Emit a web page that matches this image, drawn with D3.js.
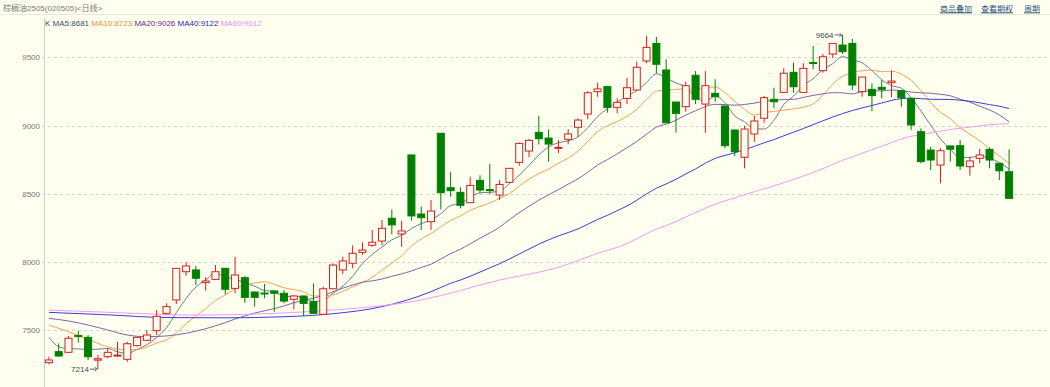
<!DOCTYPE html>
<html>
<head>
<meta charset="utf-8">
<script src="https://cdn.jsdelivr.net/npm/d3@7"></script>
<style>
  body { margin: 0; background: #fffff0; }
  .chart svg { display: block; }
</style>
</head>
<body>
<div class="chart"></div>
<script>
var svgWidth = 1050;
var svgHeight = 387;

// daily candles, oldest first
var opens = [7261,7342,7337,7460,7447,7280,7305,7310,7286,7386,
  7425,7496,7623,7721,7928,7941,7848,7872,7953,7806,
  7884,7779,7772,7787,7770,7726,7750,7708,7616,7803,
  7941,7990,8070,8122,8153,8320,8205,8784,8351,8295,
  8943,8544,8510,8434,8598,8530,8490,8583,8730,8813,
  8950,8908,8835,8899,8987,9084,9248,9285,9133,9199,
  9260,9473,9602,9407,9172,9138,9368,9157,9236,9143,
  8967,8767,8938,9053,9192,9243,9390,9243,9462,9402,
  9524,9590,9602,9248,9265,9280,9314,9255,9199,8955,
  8820,8710,8850,8852,8698,8759,8825,8723,8661];
var highs = [7305,7403,7457,7493,7464,7317,7367,7415,7415,7450,
  7500,7647,7696,7955,7997,7970,7887,7977,7955,8038,
  7897,7782,7838,7790,7794,7755,7752,7843,7818,7990,
  8038,8122,8144,8234,8307,8385,8302,8786,8405,8454,
  8945,8661,8547,8625,8635,8718,8600,8688,8877,8901,
  9072,8972,8894,8974,9053,9253,9314,9287,9199,9350,
  9468,9655,9650,9485,9175,9321,9399,9399,9339,9145,
  8970,8998,9070,9216,9277,9419,9460,9456,9583,9524,
  9602,9664,9634,9355,9309,9333,9402,9258,9200,8979,
  8845,8833,8852,8894,8771,8828,8840,8725,8825];
var lows = [7249,7308,7335,7408,7281,7214,7293,7305,7268,7380,
  7420,7464,7615,7691,7897,7831,7789,7868,7762,7770,
  7701,7672,7733,7635,7696,7652,7603,7620,7614,7800,
  7911,7953,8051,8111,8124,8202,8111,8302,8234,8234,
  8385,8478,8393,8432,8507,8495,8454,8580,8705,8767,
  8862,8735,8797,8862,8918,9045,9211,9094,9089,9157,
  9258,9456,9383,9018,8947,9101,9157,8947,9174,8833,
  8776,8686,8881,9020,9126,9240,9241,9240,9412,9387,
  9493,9524,9260,9211,9106,9199,9207,9138,8967,8723,
  8674,8576,8735,8674,8632,8723,8686,8600,8466];
var closes = [7281,7310,7440,7455,7305,7290,7337,7317,7400,7447,
  7464,7601,7672,7953,7970,7880,7860,7928,7799,7904,
  7740,7740,7768,7770,7713,7750,7696,7623,7803,7977,
  8007,8063,8087,8144,8246,8271,8227,8337,8324,8373,
  8507,8522,8415,8561,8527,8526,8568,8686,8869,8891,
  8903,8864,8840,8938,9040,9240,9268,9133,9170,9277,
  9427,9573,9449,9020,9089,9292,9192,9292,9211,8852,
  8808,8974,9033,9204,9174,9383,9284,9419,9458,9504,
  9602,9541,9297,9355,9219,9265,9326,9204,9004,8735,
  8747,8815,8826,8703,8740,8784,8747,8668,8466];

// moving averages before enough candles exist on screen: [index, value]
var ma5Lead = [[0,7447],[1,7378],[2,7364],[3,7362]];
var ma10Lead = [[0,7537],[2,7488],[4,7432],[6,7378],[8,7355]];
var ma20Lead = [[0,7586],[2,7567],[4,7537],[6,7501],[8,7464],[10,7452],[12,7457],[14,7477],[16,7510],[18,7555]];
var ma40Lead = [[0,7630],[6,7612],[12,7592],[18,7590],[24,7598],[29,7620],[34,7672]];
var ma60Lead = [[0,7647],[8,7625],[15,7610],[22,7620],[28,7642],[38,7721],[46,7867],[52,7960],[56,8063]];

var maNames = ["MA5", "MA10", "MA20", "MA40", "MA60"];
var maPeriods = [5, 10, 20, 40, 60];
var maLegend = [8681, 8723, 9026, 9122, 9012];
var maLeads = [ma5Lead, ma10Lead, ma20Lead, ma40Lead, ma60Lead];
var maLineColors = ["#66808e", "#f4a24e", "#8562a6", "#3c3cd8", "#f29af2"];
var maTextColors = ["#34506a", "#f09030", "#6a2a90", "#2626c4", "#f08cf0"];

var yTicks = [7500, 8000, 8500, 9000, 9500];
var title = "棕榈油2505(020505)<日线>";
var links = ["商品叠加", "查看期权", "周期"];

var upColor = "#d81e1e";
var downColor = "#008000";
var bgColor = "#fffff0";

var svg = d3.select(".chart")
  .append("svg")
  .attr("width", svgWidth)
  .attr("height", svgHeight)
  .style("font-family", "'Liberation Sans', Arial, 'Noto Sans CJK SC', sans-serif");

svg.append("rect")
  .attr("width", svgWidth)
  .attr("height", svgHeight)
  .attr("fill", bgColor);

var n = closes.length;
var xBand = d3.scaleBand()
  .domain(d3.range(n))
  .range([44, 1014]);
var xc = i => xBand(i) + xBand.bandwidth() / 2;

var yScale = d3.scaleLinear()
  .domain([7500, 9500])
  .range([330.1, 57.3]);

// header
svg.append("text")
  .attr("x", 3)
  .attr("y", 11)
  .attr("font-size", 8)
  .attr("fill", "#7a7a7a")
  .text(title);

svg.append("line")
  .attr("x1", 0).attr("x2", svgWidth)
  .attr("y1", 14.5).attr("y2", 14.5)
  .attr("stroke", "#ecead6");

var linkX = [940, 981, 1024];
links.forEach(function(t, k) {
  var tx = svg.append("text")
    .attr("x", linkX[k])
    .attr("y", 11.5)
    .attr("font-size", 8)
    .attr("fill", "#1f4f7f")
    .attr("text-decoration", "underline")
    .text(t);
});

// legend row
var legend = svg.append("text")
  .attr("x", 45)
  .attr("y", 26)
  .attr("font-size", 8);
legend.append("tspan").attr("fill", "#444").text("K ");
maNames.forEach(function(name, k) {
  legend.append("tspan")
    .attr("fill", maTextColors[k])
    .text(" " + name + ":" + maLegend[k]);
});

// y axis line, grid and labels
svg.append("line")
  .attr("x1", 44.5).attr("x2", 44.5)
  .attr("y1", 18).attr("y2", svgHeight)
  .attr("stroke", "#cfcfc4");

var grid = svg.append("g");
grid.selectAll("line")
  .data(yTicks)
  .enter()
  .append("line")
  .attr("x1", 42)
  .attr("x2", 1048)
  .attr("y1", d => Math.round(yScale(d)) + 0.5)
  .attr("y2", d => Math.round(yScale(d)) + 0.5)
  .attr("stroke", "#d4d4cc")
  .attr("stroke-dasharray", "3,3");

grid.selectAll("text")
  .data(yTicks)
  .enter()
  .append("text")
  .attr("x", 40)
  .attr("y", d => yScale(d) + 3)
  .attr("text-anchor", "end")
  .attr("font-size", 8)
  .attr("fill", "#777")
  .text(d => d);

// moving averages
function movingAverage(period, lead) {
  var pts = lead.map(d => [d[0], d[1]]);
  for (var i = period - 1; i < n; i++) {
    var s = 0;
    for (var j = i - period + 1; j <= i; j++) s += closes[j];
    pts.push([i, s / period]);
  }
  return pts;
}

var maLine = d3.line()
  .x(d => xc(d[0]))
  .y(d => yScale(d[1]))
  .curve(d3.curveMonotoneX);

var maGroup = svg.append("g");
maPeriods.forEach(function(p, k) {
  maGroup.append("path")
    .datum(movingAverage(p, maLeads[k]))
    .attr("fill", "none")
    .attr("stroke", maLineColors[k])
    .attr("stroke-width", 1)
    .attr("d", maLine);
});

// candles
var candles = d3.range(n).map(i => ({
  i: i, o: opens[i], h: highs[i], l: lows[i], c: closes[i]
}));

var candleGroup = svg.append("g");
var bodyW = 7;

candleGroup.selectAll(".wick")
  .data(candles)
  .enter()
  .append("line")
  .attr("class", "wick")
  .attr("x1", d => xc(d.i))
  .attr("x2", d => xc(d.i))
  .attr("y1", d => yScale(d.h))
  .attr("y2", d => yScale(d.l))
  .attr("stroke", d => d.c >= d.o ? upColor : downColor)
  .attr("stroke-width", 1);

candleGroup.selectAll(".body")
  .data(candles)
  .enter()
  .append("rect")
  .attr("class", "body")
  .attr("x", d => xc(d.i) - bodyW / 2)
  .attr("width", bodyW)
  .attr("y", d => yScale(Math.max(d.o, d.c)))
  .attr("height", d => Math.max(1, Math.abs(yScale(d.o) - yScale(d.c))))
  .attr("fill", d => d.c >= d.o ? bgColor : downColor)
  .attr("stroke", d => d.c >= d.o ? upColor : downColor)
  .attr("stroke-width", 1);

// highest / lowest markers
var iMax = d3.maxIndex(highs);
var iMin = d3.minIndex(lows);
[[iMax, highs[iMax]], [iMin, lows[iMin]]].forEach(function(m) {
  var mx = xc(m[0]);
  var my = yScale(m[1]);
  svg.append("text")
    .attr("x", mx - 9)
    .attr("y", my + 3)
    .attr("text-anchor", "end")
    .attr("font-size", 8)
    .attr("fill", "#3d4a55")
    .text(m[1]);
  svg.append("line")
    .attr("x1", mx - 8).attr("x2", mx - 1)
    .attr("y1", my).attr("y2", my)
    .attr("stroke", "#5a6670");
  svg.append("path")
    .attr("d", `M${mx - 3},${my - 2}L${mx - 1},${my}L${mx - 3},${my + 2}`)
    .attr("fill", "none")
    .attr("stroke", "#5a6670");
});
</script>
</body>
</html>
